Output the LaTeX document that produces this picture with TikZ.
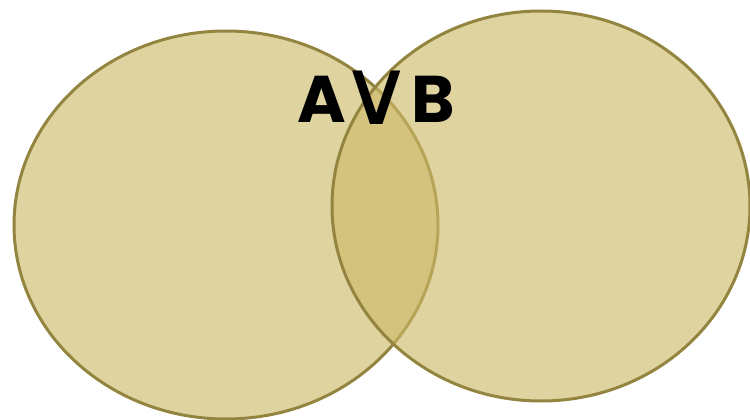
\documentclass[tikz,border=0pt]{standalone}
\usepackage{fontspec}
\setmainfont{Poppins}
\newfontfamily\symfont{DejaVu Sans}
\usepackage{tikz}
\usetikzlibrary{shapes.geometric,positioning}
\definecolor{vnfill}{RGB}{204,185,103}
\definecolor{vnline}{RGB}{147,132,63}
\tikzstyle{setcircle} = [ellipse, inner sep=0pt, draw=vnline, line width=3pt, fill=vnfill, fill opacity=0.625, draw opacity=1]

\begin{document}
\begin{tikzpicture}[x=1pt, y=-1pt]
\useasboundingbox (0,0) rectangle (750,420);
% the two sets
\node[setcircle, minimum width=424pt, minimum height=388pt] (setA) at (226,225) {};
\node[setcircle, minimum width=418pt, minimum height=390pt] (setB) at (541,206) {};

% label
\node[font=\fontsize{66}{66}\selectfont\bfseries, inner sep=0pt, anchor=base] (lbl) at (376.5,122) {A\kern-6.4pt\raisebox{-2pt}{\symfont\mdseries\scalebox{1.54}[1.4]{∨}}\kern-2.4ptB};
\end{tikzpicture}
\end{document}
